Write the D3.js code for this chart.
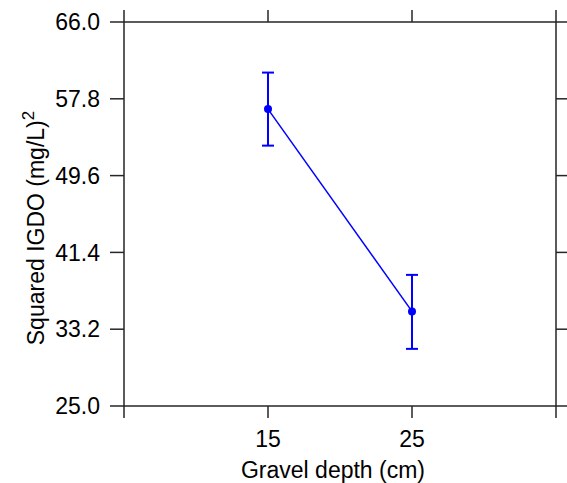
<!DOCTYPE html>
<html><head><meta charset="utf-8">
<script src="https://cdn.jsdelivr.net/npm/d3@7"></script>
<style>body{margin:0;background:#fff}text{font-family:"Liberation Sans",Arial,sans-serif}</style>
</head><body><svg id="c" width="567" height="483"></svg>
<script>
const depths = [15, 25];
const means = [56.7, 35.1];
const upper = [60.6, 39.0];
const lower = [52.8, 31.1];
const yTicks = [25.0, 33.2, 41.4, 49.6, 57.8, 66.0];
const xTicks = [5, 15, 25, 35];
const xLabelTicks = [15, 25];

const svg = d3.select("#c");
const L = 124, R = 556, T = 22, B = 406;
const x = d3.scaleLinear().domain([5, 35]).range([L, R]);
const y = d3.scaleLinear().domain([25, 66]).range([B, T]);
const axisCol = "#262626", fs = 23;

svg.append("rect").attr("x", L).attr("y", T).attr("width", R - L).attr("height", B - T)
  .attr("fill", "none").attr("stroke", axisCol).attr("stroke-width", 1.5);

const g = svg.append("g").attr("stroke", axisCol).attr("stroke-width", 1.5);
yTicks.forEach(v => {
  g.append("line").attr("x1", L - 14).attr("x2", L).attr("y1", y(v)).attr("y2", y(v));
  g.append("line").attr("x1", R).attr("x2", R + 12).attr("y1", y(v)).attr("y2", y(v));
});
xTicks.forEach(v => {
  g.append("line").attr("x1", x(v)).attr("x2", x(v)).attr("y1", T - 12).attr("y2", T);
  g.append("line").attr("x1", x(v)).attr("x2", x(v)).attr("y1", B).attr("y2", B + 12);
});

svg.selectAll(".yl").data(yTicks).enter().append("text")
  .attr("x", 100).attr("y", d => y(d)).attr("dy", "0.36em")
  .attr("text-anchor", "end").attr("font-size", fs).attr("fill", "#000")
  .text(d => d.toFixed(1));
svg.selectAll(".xl").data(xLabelTicks).enter().append("text")
  .attr("x", d => x(d)).attr("y", 447)
  .attr("text-anchor", "middle").attr("font-size", fs).attr("fill", "#000")
  .text(d => d);

svg.append("text").attr("x", 333).attr("y", 478).attr("text-anchor", "middle")
  .attr("font-size", fs).text("Gravel depth (cm)");

const yl = svg.append("text").attr("transform", "translate(44,228) rotate(-90)")
  .attr("text-anchor", "middle").attr("font-size", fs);
yl.append("tspan").text("Squared IGDO (mg/L)");
yl.append("tspan").attr("dy", -10).attr("font-size", 17).text("2");

const blue = "#0000FF";
const data = depths.map((d, i) => ({d, m: means[i], u: upper[i], l: lower[i]}));
svg.append("path").datum(data)
  .attr("d", d3.line().x(p => x(p.d)).y(p => y(p.m)))
  .attr("fill", "none").attr("stroke", blue).attr("stroke-width", 1.5);
const eb = svg.append("g").attr("stroke", blue).attr("stroke-width", 2);
data.forEach(p => {
  eb.append("line").attr("x1", x(p.d)).attr("x2", x(p.d)).attr("y1", y(p.u)).attr("y2", y(p.l));
  eb.append("line").attr("x1", x(p.d) - 6).attr("x2", x(p.d) + 6).attr("y1", y(p.u)).attr("y2", y(p.u));
  eb.append("line").attr("x1", x(p.d) - 6).attr("x2", x(p.d) + 6).attr("y1", y(p.l)).attr("y2", y(p.l));
});
svg.selectAll(".pt").data(data).enter().append("circle")
  .attr("cx", p => x(p.d)).attr("cy", p => y(p.m)).attr("r", 4).attr("fill", blue);
</script></body></html>
